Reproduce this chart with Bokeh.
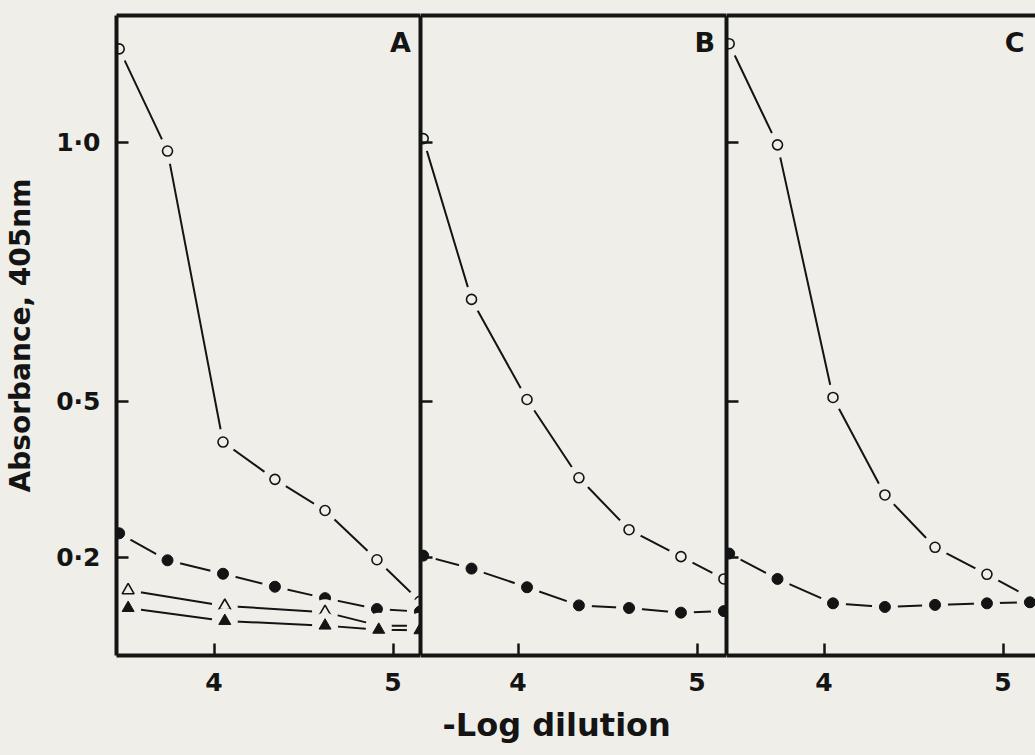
from bokeh.plotting import figure
from bokeh.layouts import row
from bokeh.models import FixedTicker, Label, LinearAxis, Range1d, Title
from bokeh.embed import file_html
from bokeh.resources import INLINE

# ---------------- data ----------------
x_dil = [3.47, 3.74, 4.05, 4.34, 4.62, 4.91, 5.15]      # -log dilution
x_tri = [3.52, 4.06, 4.62, 4.92, 5.15]

a_open = [1.18, 0.983, 0.422, 0.350, 0.290, 0.195, 0.115]
a_filled = [0.246, 0.194, 0.168, 0.143, 0.121, 0.100, 0.095]
a_open_tri = [0.136, 0.106, 0.094, 0.068, 0.068]
a_filled_tri = [0.102, 0.077, 0.068, 0.060, 0.059]

b_open = [1.007, 0.697, 0.504, 0.353, 0.253, 0.201, 0.158]
b_filled = [0.203, 0.178, 0.142, 0.107, 0.102, 0.093, 0.096]

c_open = [1.19, 0.995, 0.508, 0.320, 0.219, 0.167, 0.122]
c_filled = [0.207, 0.158, 0.111, 0.104, 0.108, 0.111, 0.113]

panel_labels = ["A", "B", "C"]
y_ticks = [0.2, 0.5, 1.0]
y_tick_labels = ["0·2", "0·5", "1·0"]
x_ticks = [4, 5]
x_tick_labels = ["4", "5"]
y_title = "Absorbance, 405nm"
x_title = "-Log dilution"

# ---------------- style ----------------
BG = "#efeee8"
INK = "#141414"
FONT = "DejaVu Sans"
Y0, Y1 = 0.0104, 1.2444
X0 = 3.455
PX_PER_UNIT = 179.0
H = 755
TOP, BOTTOM = 15, 100


def series(p, xs, ys, kind):
    p.line(xs, ys, line_color=INK, line_width=2)
    p.scatter(xs, ys, marker="circle", size=26, fill_color=BG, line_color=None)
    if kind == "open_circle":
        p.scatter(xs, ys, marker="circle", size=10, fill_color=BG,
                  line_color=INK, line_width=1.6)
    elif kind == "filled_circle":
        p.scatter(xs, ys, marker="circle", size=11, fill_color=INK,
                  line_color=INK, line_width=1)
    elif kind == "open_tri":
        p.scatter(xs, ys, marker="triangle", size=12, fill_color=BG,
                  line_color=INK, line_width=1.6)
    elif kind == "filled_tri":
        p.scatter(xs, ys, marker="triangle", size=12, fill_color=INK,
                  line_color=INK, line_width=1)


def border_axis():
    return LinearAxis(ticker=FixedTicker(ticks=[]), axis_line_color=INK,
                      axis_line_width=4, major_tick_line_color=None,
                      minor_tick_line_color=None, major_label_text_font_size="0px",
                      major_tick_out=0, major_tick_in=0, major_label_standoff=0)


def make_panel(width, frame_w, left_border, label, label_x, show_ylabels, right_border=True):
    x1 = X0 + frame_w / PX_PER_UNIT
    p = figure(width=width, height=H, output_backend="svg", toolbar_location=None,
               x_range=Range1d(X0, x1), y_range=Range1d(Y0, Y1),
               min_border_left=left_border, min_border_right=0,
               min_border_top=TOP, min_border_bottom=BOTTOM,
               background_fill_color=BG, border_fill_color=BG)
    p.grid.visible = False
    p.outline_line_color = None

    # x axis
    xa = p.xaxis[0]
    xa.ticker = FixedTicker(ticks=x_ticks)
    xa.major_label_overrides = dict(zip(x_ticks, x_tick_labels))
    xa.major_tick_in = 12
    xa.major_tick_out = 0
    xa.minor_tick_line_color = None
    xa.major_tick_line_width = 2.5
    xa.major_tick_line_color = INK
    xa.axis_line_color = INK
    xa.axis_line_width = 4
    xa.major_label_text_font = FONT
    xa.major_label_text_font_style = "bold"
    xa.major_label_text_font_size = "25px"
    xa.major_label_text_color = INK
    xa.major_label_standoff = 17

    # y axis
    ya = p.yaxis[0]
    ya.ticker = FixedTicker(ticks=y_ticks)
    ya.major_tick_in = 12
    ya.major_tick_out = 0
    ya.minor_tick_line_color = None
    ya.major_tick_line_width = 2.5
    ya.major_tick_line_color = INK
    ya.axis_line_color = INK
    ya.axis_line_width = 4
    if show_ylabels:
        ya.major_label_overrides = dict(zip(y_ticks, y_tick_labels))
        ya.major_label_text_font = FONT
        ya.major_label_text_font_style = "bold"
        ya.major_label_text_font_size = "25px"
        ya.major_label_text_color = INK
        ya.major_label_standoff = 16
    else:
        ya.major_label_overrides = {t: "" for t in y_ticks}
        ya.major_label_standoff = 0

    p.add_layout(border_axis(), "above")
    if right_border:
        p.add_layout(border_axis(), "right")

    p.add_layout(Label(x=label_x, y=1.222, text=label,
                       text_font=FONT, text_font_style="bold", text_font_size="27px",
                       text_color=INK, text_align="right", text_baseline="top"))
    return p


pa = make_panel(420, 304, 116, panel_labels[0], 5.10, True)
series(pa, x_dil, a_open, "open_circle")
series(pa, x_dil, a_filled, "filled_circle")
series(pa, x_tri, a_open_tri, "open_tri")
series(pa, x_tri, a_filled_tri, "filled_tri")
ya = pa.yaxis[0]
ya.axis_label = y_title
ya.axis_label_text_font = FONT
ya.axis_label_text_font_style = "bold"
ya.axis_label_text_font_size = "28px"
ya.axis_label_text_color = INK
ya.axis_label_standoff = 16

pb = make_panel(306, 306, 0, panel_labels[1], 5.10, False)
series(pb, x_dil, b_open, "open_circle")
series(pb, x_dil, b_filled, "filled_circle")
pb.add_layout(Title(text=x_title, text_font=FONT, text_font_style="bold",
                    text_font_size="32px", text_color=INK, align="left",
                    offset=22, standoff=21), "below")

pc = make_panel(309, 309, 0, panel_labels[2], 5.12, False, right_border=False)
series(pc, x_dil, c_open, "open_circle")
series(pc, x_dil, c_filled, "filled_circle")

layout = row(pa, pb, pc, spacing=0, styles={"background-color": BG})
open("out.html", "w").write(file_html(layout, INLINE))
